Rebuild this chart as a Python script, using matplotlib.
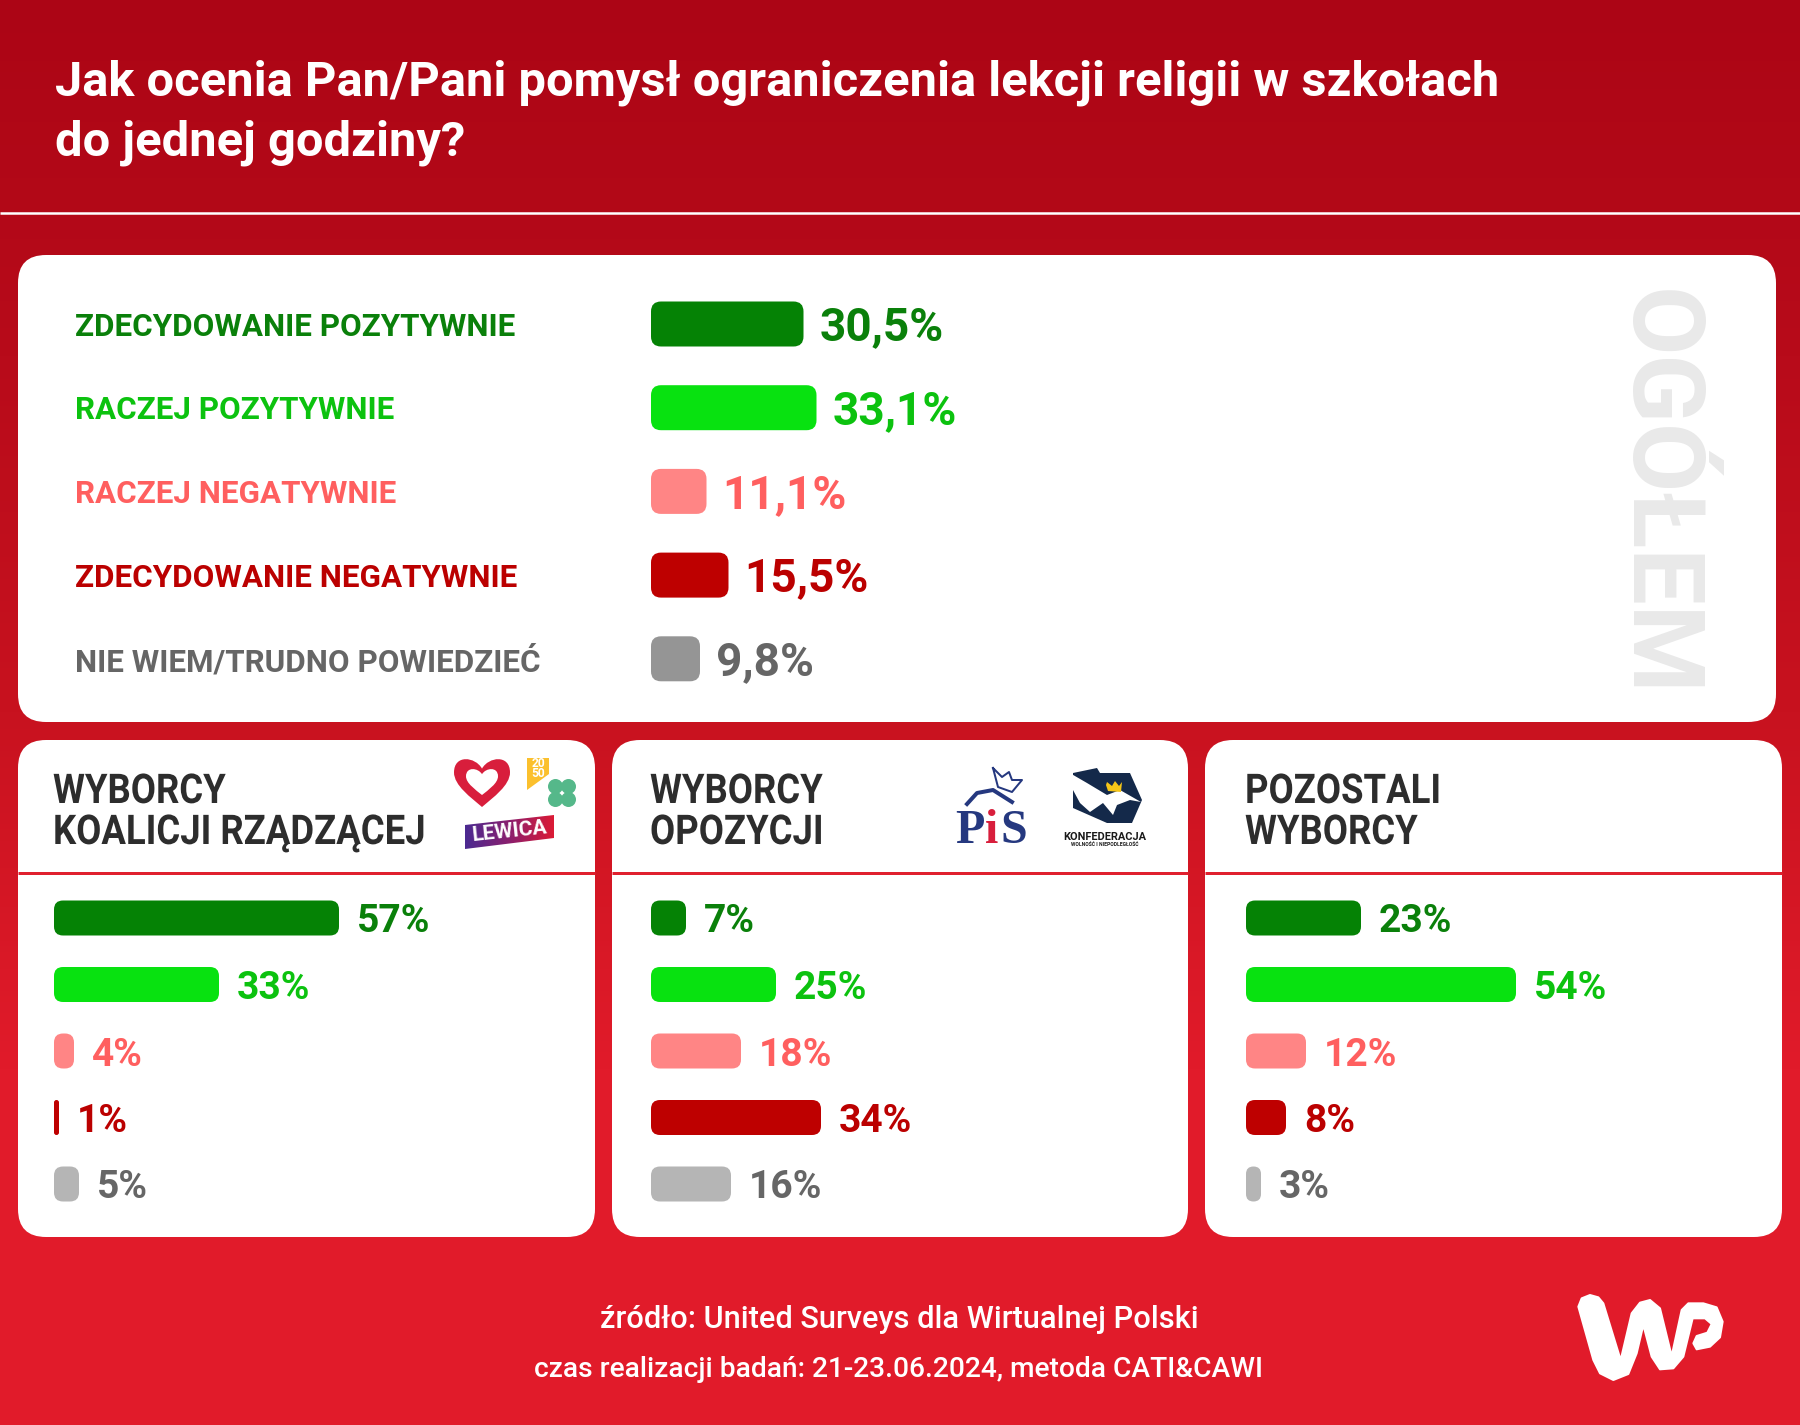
import numpy as np
import matplotlib
matplotlib.use("Agg")
import matplotlib.pyplot as plt
import matplotlib.patheffects as pe
from matplotlib.patches import FancyBboxPatch, PathPatch, Polygon, Circle
from matplotlib.path import Path
from matplotlib.transforms import Affine2D
from matplotlib.colors import LinearSegmentedColormap

W, H = 1800, 1425
PX_PER_PCT = 5.0

categories = ["ZDECYDOWANIE POZYTYWNIE", "RACZEJ POZYTYWNIE", "RACZEJ NEGATYWNIE",
              "ZDECYDOWANIE NEGATYWNIE", "NIE WIEM/TRUDNO POWIEDZIEĆ"]
overall = [30.5, 33.1, 11.1, 15.5, 9.8]
coalition = [57, 33, 4, 1, 5]
opposition = [7, 25, 18, 34, 16]
others = [23, 54, 12, 8, 3]

bar_colors = ["#058205", "#08E210", "#FF8585", "#BE0000", "#959595"]
text_colors = ["#0A800A", "#0CC20F", "#FF5F5F", "#BB0000", "#666666"]
SUB_GREY = "#B5B5B5"

plt.rcParams["font.family"] = ["Roboto", "DejaVu Sans"]


def pt(px):
    return px * 72 / 100


class Condense(pe.AbstractPathEffect):
    # no condensed Roboto here, so squeeze the glyphs of the normal one
    def __init__(self, sx):
        super().__init__()
        self.sx = sx

    def draw_path(self, renderer, gc, tpath, affine, rgbFace=None):
        renderer.draw_path(gc, tpath, Affine2D().scale(self.sx, 1) + affine, rgbFace)


fig = plt.figure(figsize=(W / 100, H / 100), dpi=100)
bg = fig.add_axes([0, 0, 1, 1])
bg.set_xlim(0, W)
bg.set_ylim(H, 0)
bg.axis("off")

# background
grad_cm = LinearSegmentedColormap.from_list("bg", ["#AC0515", "#B80B1A", "#C8121F", "#E11B2A", "#E11B2A"])
bg.imshow(np.linspace(0, 1, 256).reshape(-1, 1), cmap=grad_cm, extent=(0, W, H, 0), aspect="auto", zorder=0)
bg.set_xlim(0, W)
bg.set_ylim(H, 0)
bg.plot([0, W], [213, 213], color="white", lw=pt(2.5), zorder=1, solid_capstyle="butt")

title_style = dict(color="white", fontsize=pt(48.85), fontweight="bold", va="baseline")
bg.text(55, 95, "Jak ocenia Pan/Pani pomysł ograniczenia lekcji religii w szkołach", **title_style)
bg.text(55, 155, "do jednej godziny?", **title_style)


def card(x0, y0, x1, y1, r=28):
    p = FancyBboxPatch((x0, y0), x1 - x0, y1 - y0, boxstyle=f"round,pad=0,rounding_size={r}",
                       fc="white", ec="none", zorder=2)
    bg.add_patch(p)


card(18, 255, 1776, 722)
sub_cards = [(18, 595), (612, 1188), (1205, 1782)]
for x0, x1 in sub_cards:
    card(x0, 740, x1, 1237)
    bg.plot([x0, x1], [873, 873], color="#E0202E", lw=pt(3), zorder=3, solid_capstyle="butt")


def bar_panel(x0, y_first, spacing, values, bar_h, radius, value_size, gap, colors, lift=0):
    # one axes per panel: x in percent, y in row number
    n = len(values)
    ax = fig.add_axes([x0 / W, 1 - (y_first + (n - 0.5) * spacing) / H,
                       100 * PX_PER_PCT / W, n * spacing / H])
    ax.set_xlim(0, 100)
    ax.set_ylim(n - 0.5, -0.5)
    ax.axis("off")
    ax.patch.set_alpha(0)
    for i, v in enumerate(values):
        w_px = v * PX_PER_PCT
        r_px = min(radius, w_px / 2)
        p = FancyBboxPatch((0, i - bar_h / spacing / 2), v, bar_h / spacing,
                           boxstyle=f"round,pad=0,rounding_size={r_px / PX_PER_PCT}",
                           mutation_aspect=PX_PER_PCT / spacing,
                           fc=colors[i], ec="none")
        ax.add_patch(p)
        label = f"{v}%".replace(".", ",")
        ax.annotate(label, xy=(v, i), xytext=(pt(gap), pt(lift)), textcoords="offset points",
                    color=text_colors[i], fontsize=pt(value_size), fontweight="bold", va="center_baseline")
    return ax


bar_panel(651, 324, 83.7, overall, 45, 10, 46, 16, bar_colors, lift=1)
sub_colors = bar_colors[:4] + [SUB_GREY]
bar_panel(54, 918, 66.5, coalition, 35, 9, 39, 18, sub_colors)
bar_panel(651, 918, 66.5, opposition, 35, 9, 39, 18, sub_colors)
bar_panel(1246, 918, 66.5, others, 35, 9, 39, 18, sub_colors)

for i, c in enumerate(categories):
    bg.text(75, 323.5 + 83.7 * i, c, color=text_colors[i], fontsize=pt(31.4), fontweight="bold",
            va="center_baseline", zorder=4)

bg.text(1656, 493, "OGÓŁEM", color="#E9E9E9", fontsize=pt(100.5), fontweight="bold", rotation=270,
        ha="center", va="center", zorder=3)

head_style = dict(color="#2D2D2D", fontsize=pt(41), fontweight="bold", va="baseline", zorder=4,
                  path_effects=[Condense(0.89)])
bg.text(53, 803, "WYBORCY", **head_style)
bg.text(53, 844, "KOALICJI RZĄDZĄCEJ", **head_style)
bg.text(650, 803, "WYBORCY", **head_style)
bg.text(650, 844, "OPOZYCJI", **head_style)
bg.text(1245, 803, "POZOSTALI", **head_style)
bg.text(1245, 844, "WYBORCY", **head_style)

foot_style = dict(color="white", ha="center", va="baseline", fontweight="medium")
bg.text(899, 1328, "źródło: United Surveys dla Wirtualnej Polski", fontsize=pt(30.8), **foot_style)
bg.text(899, 1377, "czas realizacji badań: 21-23.06.2024, metoda CATI&CAWI", fontsize=pt(28.1), **foot_style)


# --- logos, rough shapes ---
def heart(cx, top, w, h, color, z):
    verts = [(0, 0.2), (-0.12, -0.05), (-0.5, -0.1), (-0.5, 0.28), (-0.5, 0.55), (-0.2, 0.8), (0, 1),
             (0.2, 0.8), (0.5, 0.55), (0.5, 0.28), (0.5, -0.1), (0.12, -0.05), (0, 0.2)]
    codes = [Path.MOVETO] + [Path.CURVE4] * 12
    pts = [(cx + x * w, top + y * h) for x, y in verts]
    bg.add_patch(PathPatch(Path(pts, codes), fc=color, ec="none", zorder=z))


heart(482, 759, 56, 48, "#D81E3C", 4)
heart(482, 769, 32, 26, "white", 5)
for dx, dy in [(-6.5, -6.5), (6.5, -6.5), (-6.5, 6.5), (6.5, 6.5)]:
    bg.add_patch(Circle((562 + dx, 793 + dy), 7.5, fc="#55B88A", ec="none", zorder=4))
bg.add_patch(Polygon([(527, 758), (549, 758), (549, 774), (527, 790)], fc="#FBC02D", ec="none", zorder=4))
bg.text(538, 763, "20", color="white", fontsize=pt(12), fontweight="bold", ha="center", va="center", zorder=5)
bg.text(538, 773, "50", color="white", fontsize=pt(12), fontweight="bold", ha="center", va="center", zorder=5)

lew_cm = LinearSegmentedColormap.from_list("lew", ["#4B2A91", "#8A1F6E", "#DB1A35"])
lew = bg.imshow(np.linspace(0, 1, 64).reshape(1, -1), cmap=lew_cm, extent=(465, 554, 849, 815),
                aspect="auto", zorder=4)
lew_poly = Polygon([(465, 825), (554, 815), (554, 838), (465, 849)], fc="none", ec="none",
                   transform=bg.transData)
bg.add_patch(lew_poly)
lew.set_clip_path(lew_poly)
bg.text(510, 832, "LEWICA", color="white", fontsize=pt(21), fontweight="bold", rotation=6,
        ha="center", va="center", zorder=5)
bg.set_xlim(0, W)
bg.set_ylim(H, 0)

# PiS
NAVY = "#25387F"
pis = dict(fontsize=pt(48), fontweight="bold", family=["Liberation Serif"], va="baseline", zorder=4)
bg.text(955, 843, "P", color=NAVY, **pis)
bg.text(985, 843, "i", color="#D81E3C", **pis)
bg.text(1000, 843, "S", color=NAVY, **pis)
bg.plot([993, 1002, 1009, 1012, 1022, 1012, 998, 993], [768, 777, 772, 780, 780, 792, 787, 768],
        color=NAVY, lw=pt(2), zorder=4)
bg.plot([967, 977, 993, 1012], [804, 793, 790, 802], color=NAVY, lw=pt(4), zorder=4)

# Konfederacja
bg.add_patch(Polygon([(1073, 773), (1097, 768), (1100, 773), (1130, 773), (1142, 800), (1132, 823),
                      (1107, 823), (1073, 808)], fc="#14294A", ec="none", zorder=4))
bg.add_patch(Polygon([(1068, 772), (1087, 783), (1107, 795), (1120, 790), (1141, 802), (1130, 800),
                      (1117, 805), (1113, 815), (1103, 803), (1090, 812), (1080, 803), (1073, 790)],
                     fc="white", ec="none", zorder=5))
bg.add_patch(Polygon([(1106, 785), (1107, 782), (1112, 786), (1115, 781), (1119, 786), (1122, 782),
                      (1121, 792), (1108, 791)], fc="#F5C518", ec="none", zorder=6))
bg.text(1104.5, 837, "KONFEDERACJA", color="#1A1A1A", fontsize=pt(11), fontweight="bold",
        ha="center", va="center", zorder=4)
bg.text(1104.5, 844, "WOLNOŚĆ I NIEPODLEGŁOŚĆ", color="#1A1A1A", fontsize=pt(5), fontweight="bold",
        ha="center", va="center", zorder=4)

# WP, outline
wp_zoom = [(235, 170), (245, 145), (270, 135), (295, 142), (310, 160), (362, 330), (395, 190), (420, 158),
           (450, 150), (480, 175), (515, 318), (545, 180), (565, 160), (610, 160), (650, 172), (668, 215),
           (660, 262), (630, 290), (590, 298), (580, 280), (590, 258), (622, 248), (635, 222), (615, 205),
           (578, 205), (550, 320), (520, 355), (480, 358), (455, 320), (430, 225), (410, 310), (385, 372),
           (340, 390), (300, 370), (280, 330)]
wp_pts = [(1500 + x / 3, 1250 + y / 3) for x, y in wp_zoom]
bg.add_patch(Polygon(wp_pts, fc="white", ec="white", lw=pt(2), joinstyle="round", zorder=4))

fig.savefig("out.png", dpi=100)
